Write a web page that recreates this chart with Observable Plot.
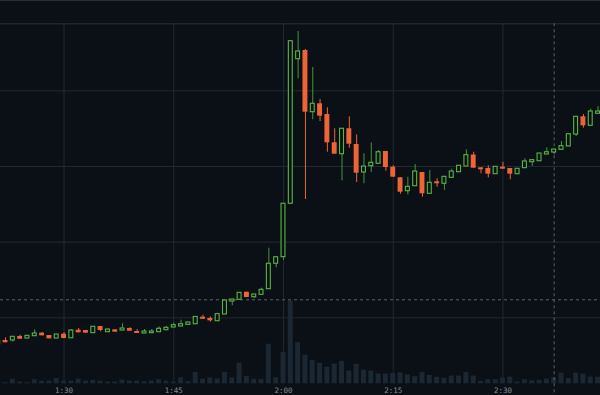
<!DOCTYPE html>
<html><head><meta charset="utf-8">
<script src="https://cdn.jsdelivr.net/npm/d3@7"></script>
<script src="https://cdn.jsdelivr.net/npm/@observablehq/plot@0.6"></script>
<style>
html,body{margin:0;padding:0;background:#0b1016;}
#chart{position:relative;width:600px;height:395px;overflow:hidden;background:#0b1016;}
#chart svg{position:absolute;left:0;top:0;}
#topline{position:absolute;left:0;top:0;width:600px;height:1px;background:#2a3037;z-index:5;}
</style></head><body>
<div id="chart"><div id="topline"></div></div>
<script>
const times = ["1:21","1:22","1:23","1:24","1:25","1:26","1:27","1:28","1:29",
"1:30","1:31","1:32","1:33","1:34","1:35","1:36","1:37","1:38","1:39",
"1:40","1:41","1:42","1:43","1:44","1:45","1:46","1:47","1:48","1:49",
"1:50","1:51","1:52","1:53","1:54","1:55","1:56","1:57","1:58","1:59",
"2:00","2:01","2:02","2:03","2:04","2:05","2:06","2:07","2:08","2:09",
"2:10","2:11","2:12","2:13","2:14","2:15","2:16","2:17","2:18","2:19",
"2:20","2:21","2:22","2:23","2:24","2:25","2:26","2:27","2:28","2:29",
"2:30","2:31","2:32","2:33","2:34","2:35","2:36","2:37","2:38","2:39",
"2:40","2:41","2:42","2:43"];
const open = [3.647,3.700,3.700,3.753,3.726,3.757,3.797,3.766,3.726,
3.783,3.730,3.836,3.832,3.797,3.885,3.810,3.841,3.832,3.859,
3.819,3.793,3.797,3.810,3.836,3.872,3.885,3.907,3.915,4.008,
3.991,3.955,4.044,4.215,4.238,4.338,4.272,4.304,4.378,4.714,
4.801,5.507,7.417,7.532,6.717,6.828,6.687,6.313,6.162,6.498,
6.290,5.920,6.003,6.035,6.198,5.990,5.850,5.673,5.739,5.920,
5.639,5.797,5.771,5.850,5.924,5.999,6.151,5.982,5.973,5.898,
5.990,5.973,5.898,5.977,6.056,6.069,6.158,6.184,6.220,6.264,
6.422,6.656,6.537,6.696];
const high = [3.700,3.736,3.749,3.770,3.762,3.841,3.806,3.766,3.779,
3.806,3.845,3.859,3.832,3.881,3.885,3.859,3.841,3.921,3.868,
3.845,3.845,3.845,3.881,3.885,3.929,3.968,3.938,4.013,4.034,
4.013,4.061,4.229,4.242,4.330,4.338,4.308,4.391,4.920,4.801,
5.507,7.655,7.783,7.546,7.308,6.885,6.775,6.498,6.498,6.656,
6.418,6.167,6.310,6.211,6.198,6.009,5.850,5.858,6.026,5.920,
5.947,5.837,5.863,5.964,6.009,6.220,6.188,5.982,6.009,5.995,
6.056,5.973,5.969,6.101,6.083,6.171,6.247,6.224,6.330,6.426,
6.656,6.687,6.757,6.792];
const low = [3.647,3.670,3.678,3.717,3.726,3.757,3.762,3.722,3.726,
3.726,3.730,3.802,3.797,3.797,3.815,3.810,3.810,3.832,3.823,
3.793,3.793,3.797,3.810,3.836,3.872,3.885,3.907,3.915,3.981,
3.942,3.955,4.044,4.159,4.238,4.268,4.255,4.304,4.378,4.661,
4.757,5.507,7.158,5.563,6.617,6.594,6.188,6.162,5.810,6.241,
5.788,5.771,5.920,6.035,5.937,5.858,5.633,5.625,5.739,5.594,
5.639,5.726,5.682,5.850,5.924,5.999,5.977,5.903,5.850,5.898,
5.964,5.824,5.898,5.977,5.999,6.069,6.158,6.154,6.220,6.264,
6.396,6.506,6.537,6.696];
const close = [3.700,3.670,3.749,3.717,3.762,3.793,3.762,3.722,3.779,
3.726,3.832,3.802,3.797,3.881,3.832,3.845,3.810,3.859,3.823,
3.793,3.819,3.819,3.855,3.868,3.902,3.915,3.938,4.011,3.981,
3.960,4.048,4.229,4.242,4.330,4.268,4.308,4.370,4.714,4.801,
5.507,7.655,7.519,6.717,6.828,6.664,6.313,6.162,6.498,6.294,
5.911,5.999,6.048,6.188,5.986,5.858,5.660,5.731,5.933,5.639,
5.784,5.771,5.863,5.933,6.009,6.149,5.977,5.956,5.898,5.995,
5.964,5.898,5.969,6.066,6.083,6.171,6.188,6.224,6.268,6.426,
6.656,6.537,6.726,6.726];
const volume = [10,10,47,17,10,40,27,27,53,
27,27,47,27,33,27,17,17,37,27,
27,17,27,40,27,17,60,20,113,47,
60,47,113,60,207,73,45,45,395,60,
315,827,410,285,232,205,165,197,225,128,
195,135,127,98,98,105,110,88,72,112,
83,65,55,77,77,113,77,23,40,40,
57,67,17,40,30,33,47,60,107,53,
107,97,67,67];
const priceGrid = [4, 5, 6, 7];
const timeTicks = ["1:30","1:45","2:00","2:15","2:30"];
const crosshairTime = "2:37";
const crosshairPrice = 4.238;
const viewWindow = ["1:21:19", "2:43:20"];
const priceDomain = [3.128, 7.885];

const toDate = s => { const [h, m, sec = 0] = s.split(":").map(Number); return new Date(Date.UTC(2024, 0, 2, h, m, sec)); };
const candles = times.map((t, i) => ({
  date: toDate(t), open: open[i], high: high[i], low: low[i], close: close[i],
  volume: volume[i], up: close[i] >= open[i]
}));
const half = 30000;
const x1 = d => new Date(+d.date - half);
const x2 = d => new Date(+d.date + half);

const BG = "#0b1016", GRID = "#222930", GREEN = "#56b843", ORANGE = "#ee6437";
const W = 600, H = 395, MT = 23.3, MB = 11.7;
const xOpt = {type: "utc", domain: viewWindow.map(toDate), label: null};
const chart = document.getElementById("chart");

// layer 1: grid + axis
chart.appendChild(Plot.plot({
  width: W, height: H, marginTop: MT, marginBottom: MB, marginLeft: 0, marginRight: 0,
  style: {background: "transparent"},
  x: {...xOpt, axis: null},
  y: {domain: priceDomain, axis: null},
  marks: [
    Plot.ruleY(priceGrid, {stroke: GRID, strokeWidth: 1}),
    Plot.ruleX(timeTicks.map(toDate), {stroke: GRID, strokeWidth: 1}),
    Plot.frame({anchor: "top", stroke: "#2a3037"}),
    Plot.axisX(timeTicks.map(toDate), {tickSize: 0, tickPadding: 4, tickFormat: d3.utcFormat("%-H:%M"),
      fontSize: 7.5, fontFamily: "DejaVu Sans Mono", fill: "#868c94", label: null})
  ]
}));

// layer 2: volume
chart.appendChild(Plot.plot({
  width: W, height: H, marginTop: 300.6, marginBottom: MB, marginLeft: 0, marginRight: 0,
  style: {background: "transparent"},
  x: {...xOpt, axis: null},
  y: {domain: [0, d3.max(volume)], axis: null},
  marks: [
    Plot.rectY(candles, {x1, x2, y: "volume", insetLeft: 1.2, insetRight: 1.2, fill: "#1b2834"})
  ]
}));

// layer 3: crosshair + candles
chart.appendChild(Plot.plot({
  width: W, height: H, marginTop: MT, marginBottom: MB, marginLeft: 0, marginRight: 0,
  style: {background: "transparent"},
  x: {...xOpt, axis: null},
  y: {domain: priceDomain, axis: null},
  marks: [
    Plot.ruleY([crosshairPrice], {stroke: "#5c636c", strokeDasharray: "3,3"}),
    Plot.ruleX([toDate(crosshairTime)], {stroke: "#5c636c", strokeDasharray: "3,3", insetBottom: -12}),
    Plot.ruleX(candles, {x: "date", y1: "low", y2: "high", stroke: d => d.up ? "#45963a" : ORANGE, strokeWidth: 1}),
    Plot.rect(candles, {filter: d => !d.up, x1, x2, y1: "open", y2: "close", insetLeft: 1.2, insetRight: 1.2, fill: ORANGE}),
    Plot.rect(candles, {filter: d => d.up, x1, x2, y1: "open", y2: "close", insetLeft: 1.7, insetRight: 1.7,
      fill: BG, stroke: GREEN, strokeWidth: 1.1})
  ]
}));
</script>
</body></html>
